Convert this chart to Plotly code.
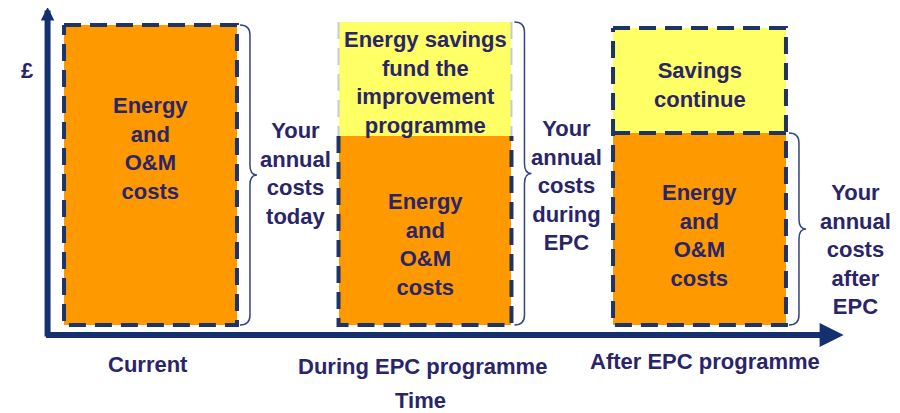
import plotly.graph_objects as go

# Data
categories = ["Current", "During EPC programme", "After EPC programme"]
energy_costs = [100, 63, 64]      # orange part ("Energy and O&M costs")
savings = [0, 38, 35]             # yellow part on top
energy_text = "Energy<br>and<br>O&M<br>costs"
savings_text = ["", "Energy savings<br>fund the<br>improvement<br>programme", "Savings<br>continue"]
brace_text = [
    "Your<br>annual<br>costs<br>today",
    "Your<br>annual<br>costs<br>during<br>EPC",
    "Your<br>annual<br>costs<br>after<br>EPC",
]

NAVY = "#14306E"
DASH = "#1E3466"
TEXT = "#2A2468"
ORANGE = "#FF9900"
YELLOW = "#FFFF66"
FONT = "Liberation Sans"

# the page body has an 8px margin, so the figure is drawn 8px in
OFFSET = 8
W, H = 900 - OFFSET, 413 - OFFSET

x = list(range(len(categories)))
bar_w = 0.63
totals = [e + s for e, s in zip(energy_costs, savings)]

# pixel helpers (1 x unit = 274.5px, 1 y unit = 3px)
PX_X = 1 / 274.5
PX_Y = 1 / 3

fig = go.Figure()

fig.add_trace(go.Bar(
    x=x, y=energy_costs, width=bar_w,
    marker={"color": ORANGE, "line": {"width": 0}},
    hoverinfo="skip",
))
fig.add_trace(go.Bar(
    x=x, y=savings, width=bar_w,
    marker={"color": YELLOW, "line": {"width": 0}},
    hoverinfo="skip",
))


def outline(xs, ys, color=DASH, width=4):
    fig.add_trace(go.Scatter(
        x=xs, y=ys, mode="lines",
        line={"color": color, "width": width, "dash": "17px,9px"},
        hoverinfo="skip",
    ))


# dashed borders
for i in x:
    x0, x1 = i - bar_w / 2, i + bar_w / 2
    e, t = energy_costs[i], totals[i]
    if i == 0:
        outline([x0, x1, x1, x0, x0], [t, t, 0, 0, t])
    elif i == 1:
        outline([x0, x0, x1, x1], [e, 0, 0, e])
        outline([x0, x0], [t, e], color="#C4CAD6", width=2)
        outline([x1, x1], [t, e], color="#C4CAD6", width=2)
    else:
        outline([x0, x1, x1, x0, x0], [t, t, 0, 0, t])
        outline([x0, x1], [e, e])

shapes = []
annotations = []

# braces on the right of each bar
brace_top = [totals[0], totals[1], energy_costs[2]]
for i in x:
    xe = i + bar_w / 2 + 3 * PX_X
    xl = xe + 10 * PX_X
    xt = xl + 7 * PX_X
    yt, yb = brace_top[i], 0
    ym = (yt + yb) / 2
    r = 10 * PX_Y
    path = (
        f"M {xe},{yt} Q {xl},{yt} {xl},{yt - r} L {xl},{ym + r} "
        f"Q {xl},{ym} {xt},{ym} Q {xl},{ym} {xl},{ym - r} "
        f"L {xl},{yb + r} Q {xl},{yb} {xe},{yb}"
    )
    shapes.append(dict(type="path", path=path, xref="x", yref="y",
                       line={"color": "#34447F", "width": 1.5}))

font = {"family": FONT, "size": 22, "color": TEXT, "weight": "bold"}

# text inside the bars
energy_text_y = [59, 27, 30]
savings_text_y = [0, 81, 80]
for i in x:
    annotations.append(dict(x=i, y=energy_text_y[i], text=energy_text,
                            showarrow=False, font=font))
    if savings[i]:
        annotations.append(dict(x=i, y=savings_text_y[i], text=savings_text[i],
                                showarrow=False, font=font))

# brace labels
brace_label_x = [0.527, 1.514, 2.567]
brace_label_y = [50.5, 46.5, 25.2]
for i in x:
    annotations.append(dict(x=brace_label_x[i], y=brace_label_y[i], text=brace_text[i],
                            showarrow=False, font=font))

# category labels and axis titles
cat_y = [-13, -13.7, -12]
cat_x = [-0.01, 0.99, 2.02]
for i in x:
    annotations.append(dict(x=cat_x[i], y=cat_y[i], text=categories[i],
                            showarrow=False, font=font))
annotations.append(dict(x=0.982, y=-25.3, text="Time", showarrow=False, font=font))
annotations.append(dict(x=-0.448, y=85, text="£", showarrow=False, font=font))

# axes with arrows
ax_x = -0.375
ax_y = -3.33
annotations.append(dict(x=2.525, y=ax_y, ax=ax_x - 3 * PX_X, ay=ax_y,
                        xref="x", yref="y", axref="x", ayref="y", text="",
                        showarrow=True, arrowhead=2, arrowsize=0.8,
                        arrowwidth=6, arrowcolor=NAVY))
annotations.append(dict(x=ax_x, y=106, ax=ax_x, ay=ax_y - 3 * PX_Y,
                        xref="x", yref="y", axref="x", ayref="y", text="",
                        showarrow=True, arrowhead=2, arrowsize=0.45,
                        arrowwidth=6, arrowcolor=NAVY))

fig.update_layout(
    width=W, height=H,
    margin=dict(l=0, r=0, t=0, b=0),
    barmode="stack",
    showlegend=False,
    paper_bgcolor="white",
    plot_bgcolor="white",
    xaxis=dict(range=[(OFFSET - 150.5) * PX_X, 749.5 * PX_X], visible=False, fixedrange=True),
    yaxis=dict(range=[-88 * PX_Y, (325 - OFFSET) * PX_Y], visible=False, fixedrange=True),
    shapes=shapes,
    annotations=annotations,
)

fig.write_html("out.html")
